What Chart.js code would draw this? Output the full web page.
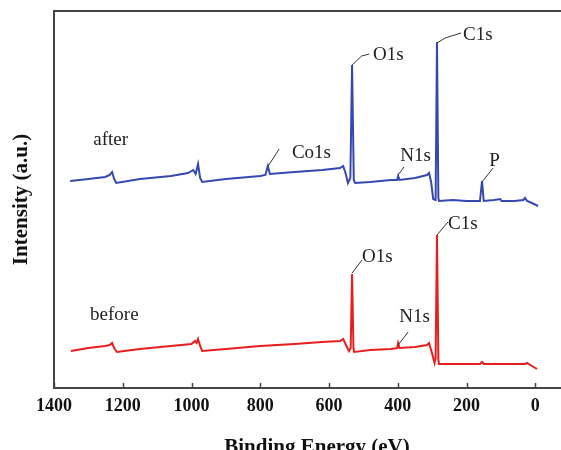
<!DOCTYPE html>
<html>
<head>
<meta charset="utf-8">
<script src="https://cdn.jsdelivr.net/npm/chart.js@4/dist/chart.umd.min.js"></script>
<style>
  html, body { margin: 0; padding: 0; background: #fff; overflow: hidden; width: 561px; height: 450px; }
  #wrap { position: absolute; left: 0; top: 0; width: 600px; height: 470px; }
</style>
</head>
<body>
<div id="wrap"><canvas id="c" width="600" height="470"></canvas></div>
<script>
// ---- data (binding energy in eV, intensity in arbitrary units) ----
const tickValues = [1400, 1200, 1000, 800, 600, 400, 200, 0];

const beAfter = [1353, 1300, 1251, 1238, 1231, 1225, 1219, 1150, 1060, 1010, 995, 988, 981, 975, 969,
  900, 800, 785, 778, 772, 700, 620, 568, 559, 552, 545, 538, 533, 528, 524, 480, 420, 402, 399, 395,
  350, 315, 309, 303, 297, 290, 286, 282, 280, 240, 200, 161, 155, 150, 120, 102, 98, 60, 35, 30, 24, 10, -8];
const intAfter = [207, 209, 211, 213, 216, 209, 205, 209, 212, 215, 218, 214, 224, 210, 206,
  209, 212, 213, 222, 214, 216, 218, 220, 222, 215, 205, 210, 323, 208, 205, 206, 208, 208, 212, 208,
  210, 213, 215, 206, 189, 188, 346, 190, 187, 188, 187, 187, 207, 187, 188, 189, 187, 187, 188, 190, 187, 185, 182];

const beBefore = [1351, 1300, 1251, 1238, 1231, 1225, 1217, 1150, 1060, 1000, 990, 985, 981, 975, 969,
  900, 800, 700, 620, 568, 559, 552, 542, 537, 533, 529, 527, 480, 420, 402, 399, 395,
  350, 315, 309, 303, 293, 290, 286, 282, 280, 240, 200, 161, 155, 150, 100, 50, 30, 24, 10, -5];
const intBefore = [37, 40, 42, 43, 45, 40, 36, 39, 42, 44, 47, 45, 49, 42, 37,
  39, 42, 44, 46, 47, 49, 44, 37, 40, 114, 40, 36, 38, 39, 40, 45, 40,
  41, 43, 45, 38, 25, 30, 153, 28, 24, 24, 24, 24, 26, 24, 24, 24, 24, 25, 22, 19];

// peak labels: text, anchor (BE, intensity), leader line points
const peakLabels = [
  { text: 'after',  be: 1286, y: 248, leader: [] },
  { text: 'Co1s',   be: 708,  y: 235, leader: [[777, 222], [745, 239]] },
  { text: 'O1s',    be: 472,  y: 333, leader: [[533, 323], [505, 332], [483, 334]] },
  { text: 'C1s',    be: 210,  y: 353, leader: [[286, 345], [262, 350], [216, 355]] },
  { text: 'N1s',    be: 393,  y: 232, leader: [[399, 213], [382, 221]] },
  { text: 'P',      be: 134,  y: 227, leader: [[155, 206], [123, 220]] },
  { text: 'before', be: 1295, y: 73,  leader: [] },
  { text: 'O1s',    be: 504,  y: 131, leader: [[533, 115], [504, 128]] },
  { text: 'C1s',    be: 254,  y: 164, leader: [[286, 153], [254, 166]] },
  { text: 'N1s',    be: 396,  y: 71,  leader: [[399, 43], [370, 56]] }
];

const toXY = (xs, ys) => xs.map((x, i) => ({ x: x, y: ys[i] }));

const serif = '"Liberation Serif", "Times New Roman", serif';
const frameColor = '#444';

const framePlugin = {
  id: 'frame',
  afterDatasetsDraw(chart) {
    const { ctx, chartArea, scales } = chart;
    ctx.save();
    // top border
    ctx.strokeStyle = frameColor;
    ctx.lineWidth = 2;
    ctx.beginPath();
    ctx.moveTo(chartArea.left - 1, chartArea.top);
    ctx.lineTo(chartArea.right + 40, chartArea.top);
    ctx.stroke();
    // inward tick marks
    ctx.lineWidth = 1.5;
    tickValues.forEach(v => {
      const px = Math.round(scales.x.getPixelForValue(v)) + 0.5;
      ctx.beginPath();
      ctx.moveTo(px, chartArea.bottom);
      ctx.lineTo(px, chartArea.bottom - 5);
      ctx.stroke();
    });
    // labels + leader lines
    ctx.font = '19px ' + serif;
    ctx.fillStyle = '#222';
    ctx.textAlign = 'left';
    ctx.textBaseline = 'middle';
    ctx.strokeStyle = '#333';
    ctx.lineWidth = 1;
    peakLabels.forEach(l => {
      if (l.leader.length) {
        ctx.beginPath();
        l.leader.forEach((p, i) => {
          const px = scales.x.getPixelForValue(p[0]);
          const py = scales.y.getPixelForValue(p[1]);
          if (i === 0) ctx.moveTo(px, py); else ctx.lineTo(px, py);
        });
        ctx.stroke();
      }
      ctx.fillText(l.text, scales.x.getPixelForValue(l.be), scales.y.getPixelForValue(l.y));
    });
    ctx.restore();
  }
};

new Chart(document.getElementById('c'), {
  type: 'line',
  data: {
    datasets: [
      { label: 'after', data: toXY(beAfter, intAfter), borderColor: 'rgb(52,72,176)', borderWidth: 2,
        pointRadius: 0, tension: 0, fill: false },
      { label: 'before', data: toXY(beBefore, intBefore), borderColor: 'rgb(232,30,30)', borderWidth: 2,
        pointRadius: 0, tension: 0, fill: false }
    ]
  },
  options: {
    responsive: false,
    devicePixelRatio: 1,
    animation: false,
    events: [],
    layout: { padding: { top: 11, right: 20, left: 0, bottom: 0 } },
    plugins: { legend: { display: false }, tooltip: { enabled: false } },
    scales: {
      x: {
        type: 'linear',
        reverse: true,
        min: -130,
        max: 1400,
        afterBuildTicks: s => { s.ticks = tickValues.map(v => ({ value: v })); },
        afterFit: s => { s.height = 82; },
        grid: { drawOnChartArea: false, drawTicks: false },
        border: { display: true, color: frameColor, width: 2 },
        ticks: {
          autoSkip: false, maxRotation: 0, padding: 8, color: '#111',
          font: { family: serif, size: 18, weight: 'bold' },
          callback: v => String(v)
        },
        title: {
          display: true, text: 'Binding Energy (eV)', color: '#111',
          font: { family: serif, size: 21, weight: 'bold' },
          padding: { top: 0, bottom: 10 }
        }
      },
      y: {
        type: 'linear',
        min: 0,
        max: 377,
        afterFit: s => { s.width = 54; },
        grid: { display: false, drawTicks: false },
        border: { display: true, color: frameColor, width: 2 },
        ticks: { display: false },
        title: {
          display: true, text: 'Intensity (a.u.)', color: '#111',
          font: { family: serif, size: 21, weight: 'bold' },
          padding: { top: 9, bottom: 0 }
        }
      }
    }
  },
  plugins: [framePlugin]
});
</script>
</body>
</html>
